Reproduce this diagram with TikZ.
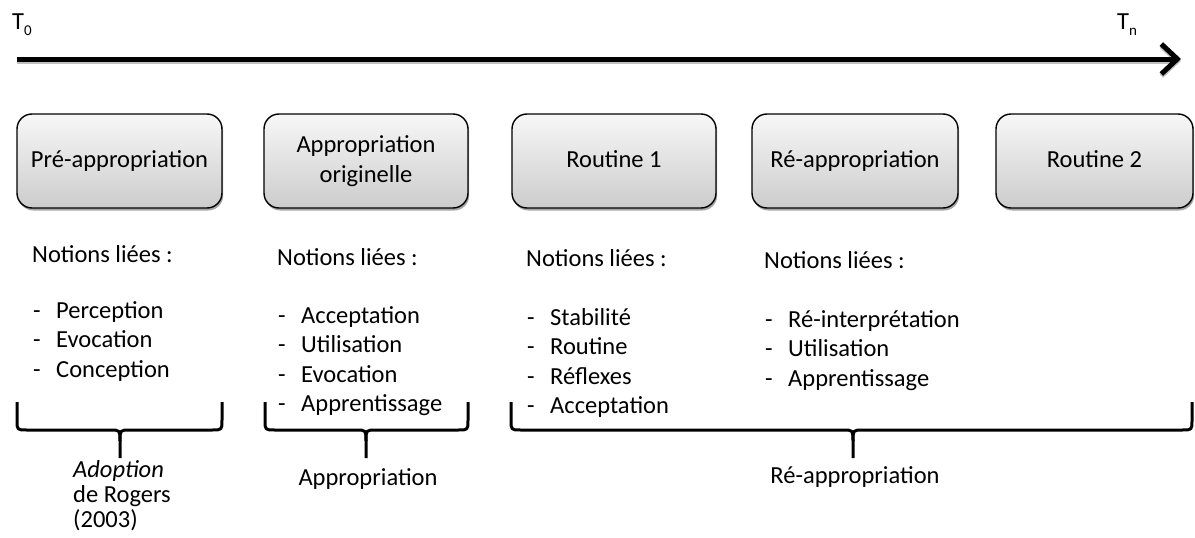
\documentclass[tikz,border=0pt]{standalone}
\usepackage{fontspec}
\setmainfont{Carlito}
\usetikzlibrary{arrows.meta,shadows}
\begin{document}
\begin{tikzpicture}[x=1pt,y=-1pt,
  every node/.style={font=\fontsize{24.5}{29}\selectfont, inner sep=0pt},
  phase/.style={draw=black, line width=1.4pt, rounded corners=15pt,
    top color=white!97!black, bottom color=white!80!black,
    minimum height=94pt, align=center,
    drop shadow={shadow xshift=1.2pt, shadow yshift=-2.5pt, opacity=0.35, fill=black}},
  oneline/.style={text height=18pt, text depth=5pt},
  txt/.style={anchor=base west},
  brace/.style={line width=3pt, line join=round},
  timeline/.style={line width=5pt, -{Straight Barb[length=16pt,width=30pt]}}
]
\useasboundingbox (0,0) rectangle (1195,538);

% time axis
\node[txt] (t0) at (12,29) {T\raisebox{-6pt}{\fontsize{15}{15}\selectfont 0}};
\node[txt] (tn) at (1117,29) {T\raisebox{-6pt}{\fontsize{15}{15}\selectfont n}};
\coordinate (axA) at (17,59);
\coordinate (axB) at (1181,59);
\draw[timeline, draw=black!25, transform canvas={yshift=-2pt}] (axA) -- (axB);
\draw[timeline] (axA) -- (axB);

% phase boxes
\node[phase, oneline, minimum width=205pt] (b1) at (119.5,161) {Pré-appropriation};
\node[phase, minimum width=204pt, font=\fontsize{24.5}{29.5}\selectfont] (b2) at (366,161) {Appropriation\\originelle};
\node[phase, oneline, minimum width=204pt] (b3) at (614,161) {Routine 1};
\node[phase, oneline, minimum width=206pt] (b4) at (855,161) {Ré-appropriation};
\node[phase, oneline, minimum width=197pt] (b5) at (1094.5,161) {Routine 2};

% column 1
\node[txt] (h1) at (32,262) {Notions liées :};
\foreach \t [count=\i] in {Perception,Evocation,Conception}{
  \node[txt] (d1\i) at (33,{318+29.5*(\i-1)}) {-};
  \node[txt] (l1\i) at (56,{318+29.5*(\i-1)}) {\t};
}
% column 2
\node[txt] (h2) at (277,265) {Notions liées :};
\foreach \t [count=\i] in {Acceptation,Utilisation,Evocation,Apprentissage}{
  \node[txt] (d2\i) at (278,{323+29.5*(\i-1)}) {-};
  \node[txt] (l2\i) at (301,{323+29.5*(\i-1)}) {\t};
}
% column 3
\node[txt] (h3) at (526,266) {Notions liées :};
\foreach \t [count=\i] in {Stabilité,Routine,Réflexes,Acceptation}{
  \node[txt] (d3\i) at (527,{325+29.5*(\i-1)}) {-};
  \node[txt] (l3\i) at (550,{325+29.5*(\i-1)}) {\t};
}
% column 4
\node[txt] (h4) at (764,268) {Notions liées :};
\foreach \t [count=\i] in {Ré-interprétation,Utilisation,Apprentissage}{
  \node[txt] (d4\i) at (765,{327+29.5*(\i-1)}) {-};
  \node[txt] (l4\i) at (788,{327+29.5*(\i-1)}) {\t};
}

% braces
\foreach \a/\b/\m in {17/222/120, 265/468/366, 511/1192/853}{
  \draw[brace] (\a,402) -- (\a,420) .. controls (\a,430) .. (\a+10,430)
     -- (\m-10,430) .. controls (\m,430) .. (\m,441) -- (\m,458);
  \draw[brace] (\b,402) -- (\b,420) .. controls (\b,430) .. (\b-10,430)
     -- (\m+10,430) .. controls (\m,430) .. (\m,441);
}

% brace labels
\node[txt] (ad1) at (73,477) {\itshape Adoption};
\node[txt] (ad2) at (73,502) {de Rogers};
\node[txt] (ad3) at (73,527) {(2003)};
\node[anchor=base] (ap) at (368,485) {Appropriation};
\node[anchor=base] (rap) at (855,483) {Ré-appropriation};
\end{tikzpicture}
\end{document}
